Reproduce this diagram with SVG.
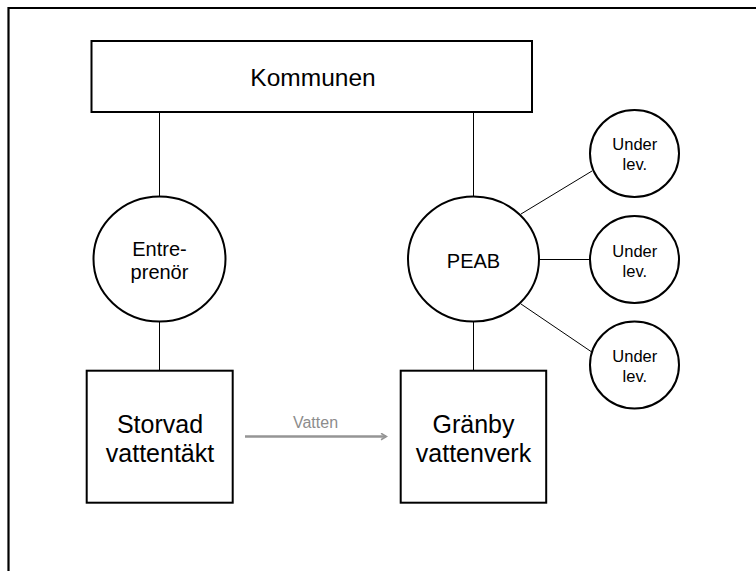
<svg xmlns="http://www.w3.org/2000/svg" width="756" height="571" viewBox="0 0 756 571">
<style>
  .shape { fill: #ffffff; stroke: #000000; stroke-width: 2; }
  .conn { stroke: #000000; stroke-width: 1; fill: none; }
  .t { font-family: "Liberation Sans", Arial, sans-serif; fill: #000000; text-anchor: middle; }
  .big { font-size: 25px; }
  .mid { font-size: 20px; }
  .small { font-size: 16.5px; }
  .flow { stroke: #959595; stroke-width: 2.5; fill: none; }
  .flowlbl { font-family: "Liberation Sans", Arial, sans-serif; font-size: 16px; fill: #8c8c8c; text-anchor: middle; }
</style>
<defs>
  <marker id="arrow" markerWidth="8" markerHeight="8" refX="6" refY="4" orient="auto" markerUnits="userSpaceOnUse">
    <path d="M1,0.8 L6.5,4 L1,7.2" fill="none" stroke="#959595" stroke-width="1.6"/>
  </marker>
</defs>
<rect width="756" height="571" fill="#ffffff"/>
<path d="M8.5,571 V8 H756" fill="none" stroke="#000000" stroke-width="2.2"/>

<g id="connectors">
  <line class="conn" x1="159.5" y1="112" x2="159.5" y2="196.5"/>
  <line class="conn" x1="473.5" y1="112" x2="473.5" y2="196.5"/>
  <line class="conn" x1="159.5" y1="321.5" x2="159.5" y2="370.5"/>
  <line class="conn" x1="473.5" y1="321.5" x2="473.5" y2="370.5"/>
  <line class="conn" x1="521" y1="214" x2="592" y2="171"/>
  <line class="conn" x1="539" y1="259.5" x2="590" y2="259.5"/>
  <line class="conn" x1="521" y1="304" x2="591" y2="351.5"/>
  <line class="flow" x1="245" y1="436.5" x2="386" y2="436.5" marker-end="url(#arrow)"/>
  <text class="flowlbl" x="315.5" y="428">Vatten</text>
</g>

<g id="kommunen">
  <rect class="shape" x="91.5" y="41" width="440.5" height="71"/>
  <text class="t" x="313" y="86" style="font-size:24.5px">Kommunen</text>
</g>

<g id="entreprenor">
  <ellipse class="shape" cx="159.5" cy="259" rx="66" ry="62.5"/>
  <text class="t mid" x="159.5" y="256">Entre-</text>
  <text class="t mid" x="159.5" y="279">prenör</text>
</g>

<g id="peab">
  <ellipse class="shape" cx="473.5" cy="259" rx="65.5" ry="62.5"/>
  <text class="t mid" x="473.5" y="267.5">PEAB</text>
</g>

<g id="underlev1">
  <ellipse class="shape" cx="634.5" cy="153.5" rx="44.5" ry="43.5"/>
  <text class="t small" x="634.8" y="150">Under</text>
  <text class="t small" x="634.8" y="169.5">lev.</text>
</g>

<g id="underlev2">
  <ellipse class="shape" cx="634.5" cy="259.5" rx="44.5" ry="43.5"/>
  <text class="t small" x="634.8" y="256.5">Under</text>
  <text class="t small" x="634.8" y="276.5">lev.</text>
</g>

<g id="underlev3">
  <ellipse class="shape" cx="634.5" cy="365" rx="44.5" ry="43.5"/>
  <text class="t small" x="634.8" y="361.5">Under</text>
  <text class="t small" x="634.8" y="381.5">lev.</text>
</g>

<g id="storvad">
  <rect class="shape" x="86.7" y="370.7" width="146" height="132"/>
  <text class="t big" x="160" y="433.3">Storvad</text>
  <text class="t big" x="160" y="461.5">vattentäkt</text>
</g>

<g id="granby">
  <rect class="shape" x="400.7" y="370.7" width="145.5" height="132"/>
  <text class="t big" x="473.5" y="433.3">Gränby</text>
  <text class="t big" x="473.5" y="461.5">vattenverk</text>
</g>
</svg>
